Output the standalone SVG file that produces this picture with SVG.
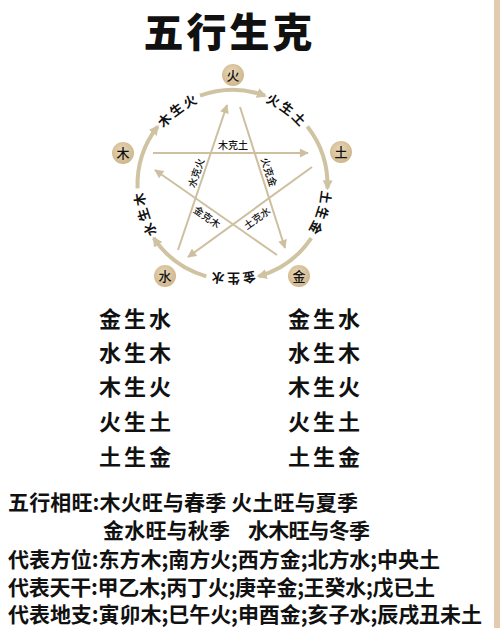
<svg xmlns="http://www.w3.org/2000/svg" width="500" height="628" viewBox="0 0 500 628">
<style>
text{font-family:"Noto Sans CJK SC","Noto Sans CJK JP",sans-serif;fill:#111}
.title{font-size:40px;font-weight:900;letter-spacing:3px}
.pair{font-size:22px;font-weight:bold;letter-spacing:3px}
.info{font-size:21px;font-weight:bold}
.ring{font-size:13px;font-weight:bold;letter-spacing:2px}
.ke{font-size:10px;font-weight:500}
.nl{font-size:13px;font-weight:500;text-anchor:middle}
.arc{fill:none;stroke:#cfc3a2;stroke-width:4}
.star{fill:none;stroke:#cdbf9f;stroke-width:2}
.node{fill:url(#ng);stroke:none}
</style>
<defs>
<radialGradient id="ng" cx="0.45" cy="0.4" r="0.6">
<stop offset="0" stop-color="#e8d8b8"/>
<stop offset="1" stop-color="#cfb68c"/>
</radialGradient>
<marker id="ah" viewBox="0 0 10 10" refX="8" refY="5" markerWidth="10" markerHeight="10" markerUnits="userSpaceOnUse" orient="auto">
<path d="M0,0 L10,5 L0,10 z" fill="#cfc3a2"/>
</marker>
<marker id="sh" viewBox="0 0 10 10" refX="9" refY="5" markerWidth="10" markerHeight="9" markerUnits="userSpaceOnUse" orient="auto">
<path d="M0,0 L10,5 L0,10 z" fill="#cdbf9f"/>
</marker>
<path id="ringpath" d="M321.5,185 A89,89 0 1 1 143.5,185 A89,89 0 1 1 321.5,185"/>
</defs>
<rect x="0" y="0" width="500" height="628" fill="#ffffff"/>
<rect x="494" y="0" width="6" height="628" fill="#e2cbae"/>
<text class="title" x="229.5" y="47" text-anchor="middle">五行生克</text>
<g id="connectors">
<path class="arc" d="M137.56,188.32 A95,95 0 0 1 157.64,126.51" marker-end="url(#ah)"/>
<path class="arc" d="M200.01,95.73 A95,95 0 0 1 264.99,95.73" marker-end="url(#ah)"/>
<path class="arc" d="M307.36,126.51 A95,95 0 0 1 327.44,188.32" marker-end="url(#ah)"/>
<path class="arc" d="M311.26,238.12 A95,95 0 0 1 258.69,276.32" marker-end="url(#ah)"/>
<path class="arc" d="M206.31,276.32 A95,95 0 0 1 153.74,238.12" marker-end="url(#ah)"/>
<line class="star" x1="153" y1="153" x2="308" y2="153" marker-end="url(#sh)"/>
<line class="star" x1="240" y1="107" x2="285" y2="248" marker-end="url(#sh)"/>
<line class="star" x1="312" y1="167" x2="188" y2="257" marker-end="url(#sh)"/>
<line class="star" x1="277" y1="255" x2="155" y2="170" marker-end="url(#sh)"/>
<line class="star" x1="178" y1="250" x2="227" y2="105" marker-end="url(#sh)"/>
</g>
<g id="ring-labels">
<text class="ring"><textPath href="#ringpath" startOffset="5%" text-anchor="middle">土生金</textPath></text>
<text class="ring"><textPath href="#ringpath" startOffset="25%" text-anchor="middle">金生水</textPath></text>
<text class="ring"><textPath href="#ringpath" startOffset="45%" text-anchor="middle">水生木</textPath></text>
<text class="ring"><textPath href="#ringpath" startOffset="65%" text-anchor="middle">木生火</textPath></text>
<text class="ring"><textPath href="#ringpath" startOffset="85%" text-anchor="middle">火生土</textPath></text>
</g>
<g id="ke-labels">
<text class="ke" text-anchor="middle" transform="translate(233,145)" y="3.8">木克土</text>
<text class="ke" text-anchor="middle" transform="translate(196,173) rotate(-71)" y="3.8">水克火</text>
<text class="ke" text-anchor="middle" transform="translate(269,172) rotate(72)" y="3.8">火克金</text>
<text class="ke" text-anchor="middle" transform="translate(207,217) rotate(35)" y="3.8">金克木</text>
<text class="ke" text-anchor="middle" transform="translate(257,218) rotate(-36)" y="3.8">土克水</text>
</g>
<g id="node-fire"><circle class="node" cx="233" cy="75" r="11"/><text class="nl" x="233" y="79.8">火</text></g>
<g id="node-wood"><circle class="node" cx="123" cy="153" r="11"/><text class="nl" x="123" y="157.8">木</text></g>
<g id="node-earth"><circle class="node" cx="341" cy="152" r="11"/><text class="nl" x="341" y="156.8">土</text></g>
<g id="node-water"><circle class="node" cx="165" cy="276" r="11"/><text class="nl" x="165" y="280.8">水</text></g>
<g id="node-metal"><circle class="node" cx="299" cy="276" r="11"/><text class="nl" x="299" y="280.8">金</text></g>
<g id="pairs">
<text class="pair" x="99" y="327">金生水</text>
<text class="pair" x="99" y="361">水生木</text>
<text class="pair" x="99" y="395">木生火</text>
<text class="pair" x="99" y="430">火生土</text>
<text class="pair" x="99" y="465">土生金</text>
<text class="pair" x="288" y="327">金生水</text>
<text class="pair" x="288" y="361">水生木</text>
<text class="pair" x="288" y="395">木生火</text>
<text class="pair" x="288" y="430">火生土</text>
<text class="pair" x="288" y="465">土生金</text>
</g>
<g id="info">
<text class="info" x="8" y="510" textLength="350" lengthAdjust="spacing">五行相旺:木火旺与春季 火土旺与夏季</text>
<text class="info" x="103" y="538" textLength="127" lengthAdjust="spacing">金水旺与秋季</text>
<text class="info" x="248" y="538" textLength="122" lengthAdjust="spacing">水木旺与冬季</text>
<text class="info" x="8" y="567" textLength="432" lengthAdjust="spacing">代表方位:东方木;南方火;西方金;北方水;中央土</text>
<text class="info" x="8" y="594.5" textLength="427" lengthAdjust="spacing">代表天干:甲乙木;丙丁火;庚辛金;王癸水;戊已土</text>
<text class="info" x="8" y="622" textLength="474" lengthAdjust="spacing">代表地支:寅卯木;巳午火;申酉金;亥子水;辰戌丑未土</text>
</g>
</svg>
